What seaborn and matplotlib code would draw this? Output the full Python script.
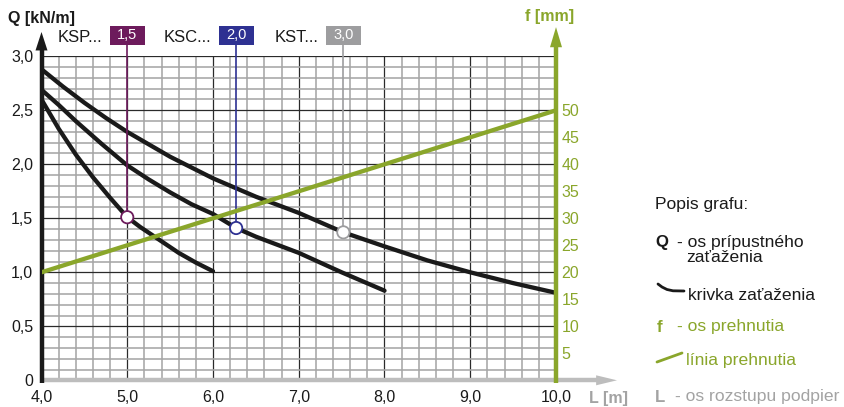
import matplotlib
matplotlib.use("Agg")
import matplotlib.pyplot as plt
import numpy as np
import pandas as pd
import seaborn as sns
from matplotlib.patches import Rectangle, Polygon
from matplotlib.lines import Line2D

# ---------------- data ----------------
L_ksp = [4.0, 4.2, 4.4, 4.6, 4.8, 5.0, 5.15, 5.3, 5.45, 5.6, 5.8, 6.0]
Q_ksp = [2.60, 2.33, 2.09, 1.88, 1.69, 1.51, 1.42, 1.34, 1.26, 1.18, 1.09, 1.01]

L_ksc = [4.0, 4.2, 4.4, 4.7, 5.0, 5.25, 5.5, 5.75, 6.0, 6.27, 6.5, 7.0, 7.5, 8.0]
Q_ksc = [2.69, 2.55, 2.40, 2.19, 1.99, 1.86, 1.74, 1.63, 1.54, 1.41, 1.33, 1.18, 1.00, 0.83]

L_kst = [4.0, 4.25, 4.5, 4.75, 5.0, 5.5, 6.0, 6.5, 7.0, 7.52, 8.0, 8.5, 9.0, 9.5, 10.0]
Q_kst = [2.88, 2.72, 2.57, 2.43, 2.30, 2.07, 1.87, 1.70, 1.55, 1.37, 1.24, 1.11, 1.00, 0.90, 0.81]

f_L = [4.0, 10.0]
f_mm = [20, 50]

series_names = ["KSP...", "KSC...", "KST..."]
series_badges = ["1,5", "2,0", "3,0"]
marker_L = [5.0, 6.27, 7.52]
marker_Q = [1.51, 1.41, 1.37]

x_ticks = [4, 5, 6, 7, 8, 9, 10]
x_labels = ["4,0", "5,0", "6,0", "7,0", "8,0", "9,0", "10,0"]
y_ticks = [0, 0.5, 1.0, 1.5, 2.0, 2.5, 3.0]
y_labels = ["0", "0,5", "1,0", "1,5", "2,0", "2,5", "3,0"]
f_ticks = [5, 10, 15, 20, 25, 30, 35, 40, 45, 50]
f_labels = [str(v) for v in f_ticks]

# ---------------- style ----------------
BLACK = "#1a1a1a"
GREEN = "#8aa62b"
GRAY = "#a3a3a3"
badge_colors = ["#6d1b5c", "#2e3192", "#9d9d9f"]

sns.set_style("white")
plt.rcParams["font.family"] = ["Liberation Sans", "DejaVu Sans"]

W, H = 844, 407
fig = plt.figure(figsize=(W / 100, H / 100), dpi=100)
x0, x1 = 41.5, 556.0
y0, y1 = 380.3, 56.3
ax = fig.add_axes([x0 / W, 1 - y0 / H, (x1 - x0) / W, (y0 - y1) / H])
ax.set_xlim(4, 10)
ax.set_ylim(0, 3)

# grid
ax.set_xticks(x_ticks)
ax.set_xticks(np.arange(4, 10.01, 0.2), minor=True)
ax.set_yticks(y_ticks)
ax.set_yticks(np.arange(0, 3.001, 0.1), minor=True)
ax.set_axisbelow(True)
ax.grid(which="minor", color="#a6a6a6", lw=1.15)
ax.grid(which="major", color="#2a2a2a", lw=0.9)
ax.set_xticklabels(x_labels)
ax.set_yticklabels(y_labels)
ax.tick_params(which="both", length=0)
ax.tick_params(axis="x", pad=7, labelsize=11.5, labelcolor=BLACK)
ax.tick_params(axis="y", pad=6, labelsize=11.5, labelcolor=BLACK)
for s in ax.spines.values():
    s.set_visible(False)

# load curves
curves = pd.concat([
    pd.DataFrame({"L": L_ksp, "Q": Q_ksp, "series": series_names[0]}),
    pd.DataFrame({"L": L_ksc, "Q": Q_ksc, "series": series_names[1]}),
    pd.DataFrame({"L": L_kst, "Q": Q_kst, "series": series_names[2]}),
], ignore_index=True)
sns.lineplot(data=curves, x="L", y="Q", hue="series", palette=[BLACK] * 3,
             estimator=None, sort=False, legend=False, lw=3.1, ax=ax, zorder=4)

# reference lines and badges
box_w = 35 / 85.75
box_h = 19 / 108.0
box_yc = (380.3 - 35.5) / 108.0
for name, badge, lx, qy, col in zip(series_names, series_badges, marker_L, marker_Q, badge_colors):
    ax.plot([lx, lx], [qy, box_yc - box_h / 2], color=col, lw=1.2, clip_on=False, zorder=5)
    ax.add_patch(Rectangle((lx - box_w / 2, box_yc - box_h / 2), box_w, box_h,
                           facecolor=col, edgecolor="none", clip_on=False, zorder=6))
    ax.text(lx, box_yc, badge, color="white", fontsize=10.5, ha="center", va="center",
            zorder=7, clip_on=False)
    ax.text(lx - box_w / 2 - 7 / 85.75, box_yc - 2 / 108, name, color=BLACK, fontsize=12,
            ha="right", va="center", clip_on=False)

marks = pd.DataFrame({"L": marker_L, "Q": marker_Q, "series": series_names})
sns.scatterplot(data=marks, x="L", y="Q", s=78, facecolor="white",
                edgecolor=badge_colors, linewidth=1.3, ax=ax, zorder=8, legend=False)
ax.set_xlabel("")
ax.set_ylabel("")

# deflection axis
ax2 = ax.twinx()
ax2.set_ylim(0, 60)
for s in ax2.spines.values():
    s.set_visible(False)
ax2.set_yticks(f_ticks)
ax2.set_yticklabels(f_labels)
ax2.tick_params(length=0, pad=4, labelsize=11.5, labelcolor=GREEN)
sns.lineplot(x=f_L, y=f_mm, color=GREEN, lw=3.1, ax=ax2, zorder=3)
ax2.set_ylabel("")

# axis lines with arrows (axes fraction)
aw, ah = x1 - x0, y0 - y1
tr = ax.transAxes
ax.plot([0, 1.08], [0, 0], color="#bdbdbd", lw=3.2, transform=tr, clip_on=False, zorder=9,
        solid_capstyle="butt")
ax.add_patch(Polygon([(1.078, 5 / ah), (1.1186, 0), (1.078, -5 / ah)], closed=True,
                     transform=tr, facecolor="#bdbdbd", edgecolor="none", clip_on=False, zorder=9))
ax.plot([0, 0], [-3 / ah, 1.02], color=BLACK, lw=3.2, transform=tr, clip_on=False, zorder=10,
        solid_capstyle="butt")
ax.add_patch(Polygon([(-6 / aw, 1.018), (0, 1.075), (6 / aw, 1.018)], closed=True,
                     transform=tr, facecolor=BLACK, edgecolor="none", clip_on=False, zorder=10))
tr2 = ax2.transAxes
ax2.plot([1, 1], [-3 / ah, 1.03], color=GREEN, lw=3.2, transform=tr2, clip_on=False, zorder=10,
         solid_capstyle="butt")
ax2.add_patch(Polygon([(1 - 6 / aw, 1.028), (1, 1.09), (1 + 6 / aw, 1.028)], closed=True,
                      transform=tr2, facecolor=GREEN, edgecolor="none", clip_on=False, zorder=10))

# axis titles
def ftxt(x, y, s, **kw):
    fig.text(x / W, 1 - y / H, s, va="center", **kw)

ftxt(8, 18, "Q [kN/m]", fontsize=11.5, fontweight="bold", color=BLACK, ha="left")
ftxt(550, 16, "f [mm]", fontsize=11.5, fontweight="bold", color=GREEN, ha="center")
ftxt(589, 398, "L [m]", fontsize=11.5, fontweight="bold", color=GRAY, ha="left")

# description
LF = 12.6
ftxt(655, 205, "Popis grafu:", fontsize=LF, color=BLACK, ha="left")
ftxt(655, 242, "Q", fontsize=LF - 0.5, fontweight="bold", color=BLACK, ha="left")
ftxt(677, 242, "- os prípustného", fontsize=LF, color=BLACK, ha="left")
ftxt(686, 258, "zaťaženia", fontsize=LF, color=BLACK, ha="left")
fig.add_artist(Line2D([658 / W, 662 / W, 667 / W, 673 / W, 684 / W],
                      [1 - 284 / H, 1 - 287 / H, 1 - 289.5 / H, 1 - 290.8 / H, 1 - 291 / H],
                      color=BLACK, lw=2))
ftxt(688, 295, "krivka zaťaženia", fontsize=LF, color=BLACK, ha="left")
ftxt(657, 327, "f", fontsize=LF - 0.5, fontweight="bold", color=GREEN, ha="left")
ftxt(677, 327, "- os prehnutia", fontsize=LF, color=GREEN, ha="left")
fig.add_artist(Line2D([657 / W, 682 / W], [1 - 362 / H, 1 - 353 / H], color=GREEN, lw=2))
ftxt(686, 361, "línia prehnutia", fontsize=LF, color=GREEN, ha="left")
ftxt(655, 397, "L", fontsize=LF - 0.5, fontweight="bold", color=GRAY, ha="left")
ftxt(675, 397, "- os rozstupu podpier", fontsize=LF, color=GRAY, ha="left")

fig.savefig("out.png", dpi=100)
